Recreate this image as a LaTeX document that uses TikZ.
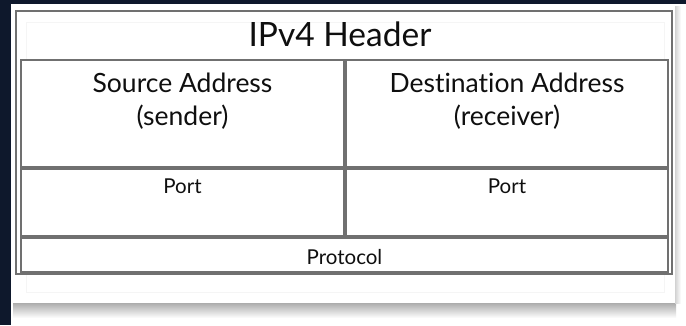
\documentclass[tikz,border=0pt]{standalone}
\usepackage{fontspec}
\setmainfont{Lato}[Ligatures=NoCommon]
\usetikzlibrary{positioning}
\definecolor{navy}{RGB}{14,24,44}
\definecolor{rule}{RGB}{112,112,112}
\definecolor{ink}{RGB}{15,15,15}

\begin{document}
\begin{tikzpicture}
        [
            x=1pt, y=-1pt,
            box/.style={draw=rule, line width=1.1pt, inner sep=0pt, outer sep=0pt},
            cell/.style={box, fill=white},
            txt/.style={inner sep=0pt, text=ink, align=center},
            big/.style={font=\fontsize{26.5}{33}\selectfont},
            small/.style={font=\fontsize{20.5}{24}\selectfont}
        ]
        \useasboundingbox (0,0) rectangle (686,325);
        \fill [navy] (0,0) rectangle (686,325);
        \fill [white] (11,4) rectangle (686,325);
        \shade [top color=gray!65, bottom color=white] (13,303) rectangle (676,318);
        \shade [left color=gray!35, right color=white] (675,6) rectangle (681,303);
        \fill [white] (11,4) rectangle (675,303);
        \draw [gray!8, line width=1pt] (26,22) rectangle (664,292);
        \node (frame) [box, anchor=north west, minimum width=656pt, minimum height=263pt] at (16,11) {};
        \node (src) [cell, anchor=north west, minimum width=323pt, minimum height=107pt] at (21,60) {};
        \node (dst) [cell, right=2pt of src, minimum width=322pt, minimum height=107pt] {};
        \node (srcport) [cell, below=2pt of src, minimum width=323pt, minimum height=67pt] {};
        \node (dstport) [cell, below=2pt of dst, minimum width=322pt, minimum height=67pt] {};
        \node (proto) [cell, below right=2pt and 0pt of srcport.south west, minimum width=647pt, minimum height=34pt] {};
        \node (title) [txt, below=11pt of frame.north, xshift=-4pt, font=\fontsize{33.5}{40}\selectfont] {IPv4 Header};
        \node (srctxt) [txt, big, below=12.5pt of src.north] {Source Address\\(sender)};
        \node (dsttxt) [txt, big, below=12.5pt of dst.north] {Destination Address\\(receiver)};
        \foreach \c in {srcport,dstport}
            \node [txt, small, below=10pt of \c.north] {Port};
        \node (prototxt) [txt, small, below=11pt of proto.north] {Protocol};
    \end{tikzpicture}
\end{document}
